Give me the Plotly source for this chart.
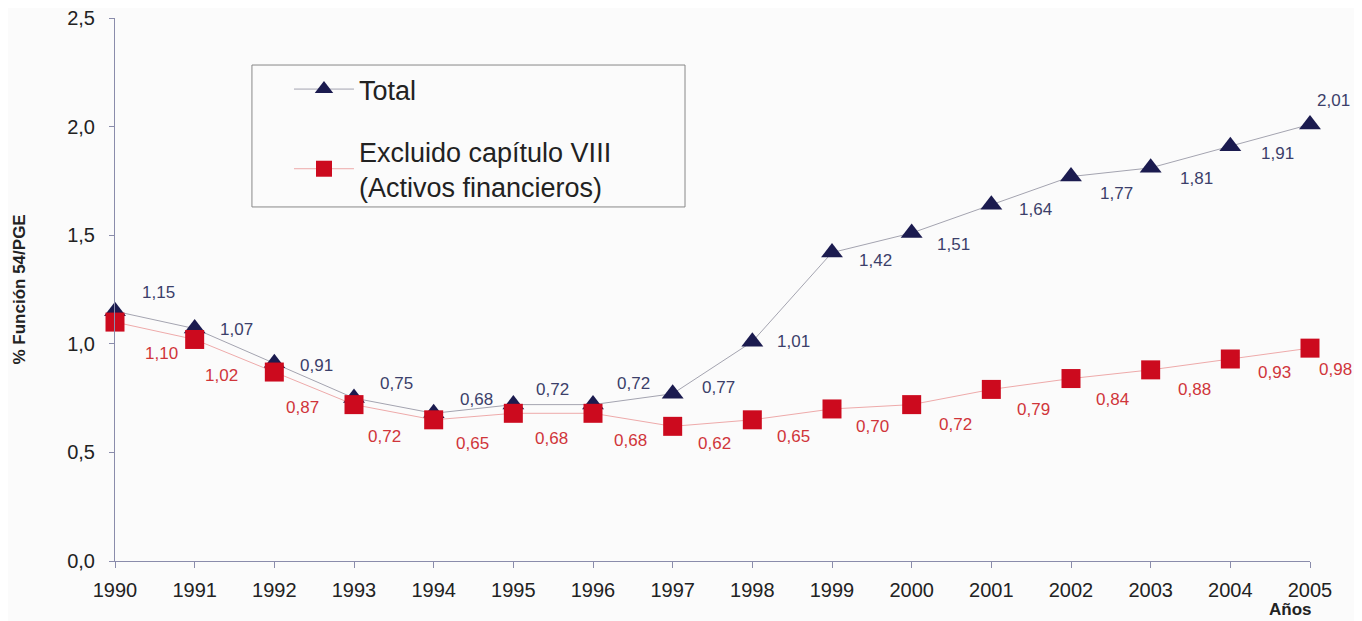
import plotly.graph_objects as go

years = list(range(1990, 2006))
total = [1.15, 1.07, 0.91, 0.75, 0.68, 0.72, 0.72, 0.77, 1.01, 1.42, 1.51, 1.64, 1.77, 1.81, 1.91, 2.01]
excluido = [1.10, 1.02, 0.87, 0.72, 0.65, 0.68, 0.68, 0.62, 0.65, 0.70, 0.72, 0.79, 0.84, 0.88, 0.93, 0.98]

# label offsets in pixels (right, down) relative to each marker
total_dx = [43, 42, 42, 42, 43, 39, 40, 46, 41, 43, 42, 44, 45, 46, 47, 23]
total_dy = [-19, 1, 2, -15, -14, -15, -21, -6, 0, 8, 11, 5, 17, 11, 7, -24]
excl_dx = [46, 27, 28, 30, 39, 38, 37, 42, 41, 40, 44, 42, 41, 44, 44, 25]
excl_dy = [31, 36, 35, 32, 24, 25, 27, 17, 17, 18, 20, 20, 21, 20, 13, 21]

FONT = "Arial, Liberation Sans, sans-serif"


def fmt(v):
    return f"{v:.2f}".replace(".", ",")


fig = go.Figure()

fig.add_trace(go.Scatter(
    x=years, y=total, name="Total", legendgroup="a",
    mode="lines+markers", cliponaxis=False,
    line=dict(color="#a4a4b0", width=1),
    marker=dict(symbol="triangle-up", size=19, color="#1b1b4f"),
))

fig.add_trace(go.Scatter(
    x=years, y=excluido, name="Excluido capítulo VIII<br>(Activos financieros)", legendgroup="b",
    mode="lines+markers", cliponaxis=False,
    line=dict(color="#eeaaaa", width=1),
    marker=dict(symbol="square", size=19, color="#cc0a1e"),
))

annotations = []
for x, v, dx, dy in zip(years, total, total_dx, total_dy):
    annotations.append(dict(x=x, y=v, text=fmt(v), showarrow=False, xshift=dx, yshift=-dy,
                            font=dict(family=FONT, size=17, color="#3c3f6a")))
for x, v, dx, dy in zip(years, excluido, excl_dx, excl_dy):
    annotations.append(dict(x=x, y=v, text=fmt(v), showarrow=False, xshift=dx, yshift=-dy,
                            font=dict(family=FONT, size=17, color="#d0353a")))

annotations.append(dict(
    text="<b>% Función 54/PGE</b>", xref="paper", yref="paper", x=-0.0795, y=0.5,
    xanchor="center", yanchor="middle", textangle=-90, showarrow=False,
    font=dict(family=FONT, size=17, color="#222222"),
))
annotations.append(dict(
    text="<b>Años</b>", xref="paper", yref="paper", x=1.003, y=-0.09,
    xanchor="right", yanchor="middle", showarrow=False,
    font=dict(family=FONT, size=17, color="#222222"),
))

fig.update_layout(
    width=1354, height=613,
    margin=dict(l=107, r=52, t=10, b=60, autoexpand=False),
    paper_bgcolor="#fbfbfb", plot_bgcolor="#fbfbfb",
    separators=",.",
    font=dict(family=FONT, color="#222222"),
    legend=dict(
        x=0.1456, y=0.9134, xanchor="left", yanchor="top",
        bgcolor="rgba(0,0,0,0)", borderwidth=0,
        font=dict(size=27, color="#222222"),
        itemwidth=60, tracegroupgap=24,
    ),
    shapes=[dict(
        type="rect", xref="paper", yref="paper", x0=0.1146, x1=0.477, y0=0.652, y1=0.9134,
        line=dict(color="#888888", width=1), fillcolor="rgba(0,0,0,0)", layer="below",
    )],
    xaxis=dict(
        range=[1990, 2005], tickmode="array", tickvals=years, automargin=False,
        showgrid=False, zeroline=False, showline=True, linecolor="#8a8cab", linewidth=1,
        ticks="outside", ticklen=6, tickcolor="#8a8cab", ticklabelstandoff=5,
        tickfont=dict(size=20, color="#222222"),
    ),
    yaxis=dict(
        range=[0, 2.5], tickvals=[0, 0.5, 1.0, 1.5, 2.0, 2.5], tickformat=".1f", automargin=False,
        showgrid=False, zeroline=False, showline=True, linecolor="#8a8cab", linewidth=1,
        ticks="outside", ticklen=5, tickcolor="#8a8cab", ticklabelstandoff=10,
        ticklabeloverflow="allow",
        tickfont=dict(size=20, color="#222222"),
    ),
    annotations=annotations,
)

fig.write_html("out.html")
